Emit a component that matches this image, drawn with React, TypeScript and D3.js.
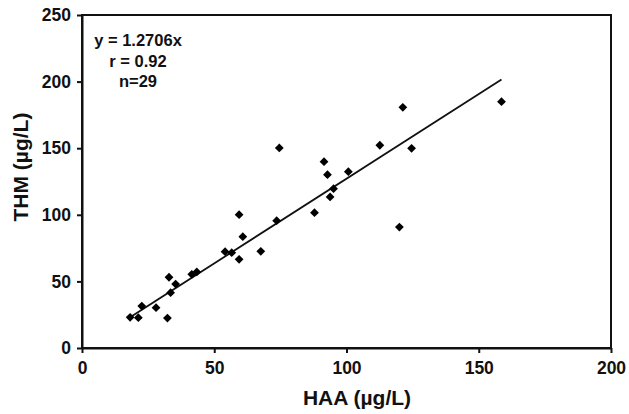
import React, { useEffect, useRef } from 'react'
import * as d3 from 'd3'

// HAA vs THM concentrations (µg/L)
const haa = [18.2, 21.3, 22.6, 28.0, 32.3, 32.9, 33.5, 35.4, 41.5, 43.4, 54.1, 56.6, 59.4, 60.8, 67.6,
    59.4, 73.6, 74.6, 87.9, 91.5, 92.8, 93.8, 95.1, 100.7, 112.6, 120.0, 121.3, 124.6, 158.6]
const thm = [23.0, 22.8, 31.5, 30.3, 22.5, 53.1, 41.5, 48.0, 55.3, 57.1, 72.3, 71.6, 66.6, 83.6, 72.6,
    100.1, 95.6, 150.2, 101.6, 139.9, 130.1, 113.4, 119.6, 132.4, 152.2, 90.8, 180.7, 149.9, 184.9]
const xTicks = [0, 50, 100, 150, 200]
const yTicks = [0, 50, 100, 150, 200, 250]
const slope = 1.2706
const statLines = ['y = 1.2706x', 'r = 0.92', 'n=29']

function App() {
    const ref = useRef(null)

    useEffect(() => {
        const width = 629
        const height = 414
        const margin = { top: 15, right: 18, bottom: 66, left: 82 }
        const font = '"Liberation Sans", Arial, sans-serif'

        const root = d3.select(ref.current)
        root.selectAll('*').remove()

        const svg = root.append('svg')
            .attr('width', width)
            .attr('height', height)
            .attr('viewBox', [0, 0, width, height])
            .style('display', 'block')

        const x = d3.scaleLinear()
            .domain([0, 200])
            .range([margin.left, width - margin.right])

        const y = d3.scaleLinear()
            .domain([0, 250])
            .range([height - margin.bottom, margin.top])

        // frame (top + right lines of the box)
        svg.append('rect')
            .attr('x', x(0))
            .attr('y', y(250))
            .attr('width', x(200) - x(0))
            .attr('height', y(0) - y(250))
            .attr('fill', 'none')
            .attr('stroke', '#111')
            .attr('stroke-width', 2)

        // axes
        const xAxis = svg.append('g')
            .attr('transform', `translate(0,${y(0)})`)
            .call(d3.axisBottom(x).tickValues(xTicks).tickSize(5).tickPadding(9).tickSizeOuter(0))
        const yAxis = svg.append('g')
            .attr('transform', `translate(${x(0)},0)`)
            .call(d3.axisLeft(y).tickValues(yTicks).tickSize(5).tickPadding(6).tickSizeOuter(0))

        for (const a of [xAxis, yAxis]) {
            a.select('.domain').attr('stroke', '#111').attr('stroke-width', 2)
            a.selectAll('.tick line').attr('stroke', '#111').attr('stroke-width', 2)
            a.selectAll('.tick text')
                .attr('fill', '#111')
                .style('font-family', font)
                .style('font-weight', 'bold')
                .style('font-size', '17.5px')
        }

        // regression line y = slope * x
        const [x0, x1] = d3.extent(haa)
        svg.append('line')
            .attr('x1', x(x0))
            .attr('y1', y(slope * x0))
            .attr('x2', x(x1))
            .attr('y2', y(slope * x1))
            .attr('stroke', '#111')
            .attr('stroke-width', 1.8)

        // points as diamonds
        const r = 4.4
        svg.append('g')
            .selectAll('path')
            .data(haa.map((h, i) => [h, thm[i]]))
            .join('path')
            .attr('d', d => {
                const cx = x(d[0]), cy = y(d[1])
                return `M${cx},${cy - r}L${cx + r},${cy}L${cx},${cy + r}L${cx - r},${cy}Z`
            })
            .attr('fill', '#000')

        // stats annotation
        svg.append('g')
            .selectAll('text')
            .data(statLines)
            .join('text')
            .attr('x', 138)
            .attr('y', (d, i) => 46 + i * 20.6)
            .attr('text-anchor', 'middle')
            .style('font-family', font)
            .style('font-weight', 'bold')
            .style('font-size', '16.5px')
            .attr('fill', '#111')
            .text(d => d)

        // axis titles
        svg.append('text')
            .attr('x', 357)
            .attr('y', 405)
            .attr('text-anchor', 'middle')
            .style('font-family', font)
            .style('font-weight', 'bold')
            .style('font-size', '21px')
            .attr('fill', '#111')
            .text('HAA (µg/L)')

        svg.append('text')
            .attr('transform', `translate(27.5,${167}) rotate(-90)`)
            .attr('text-anchor', 'middle')
            .style('font-family', font)
            .style('font-weight', 'bold')
            .style('font-size', '21px')
            .attr('fill', '#111')
            .text('THM (µg/L)')
    }, [])

    return (
        <div ref={ref} style={{ position: 'absolute', left: 0, top: 0 }}></div>
    )
}

export default App
